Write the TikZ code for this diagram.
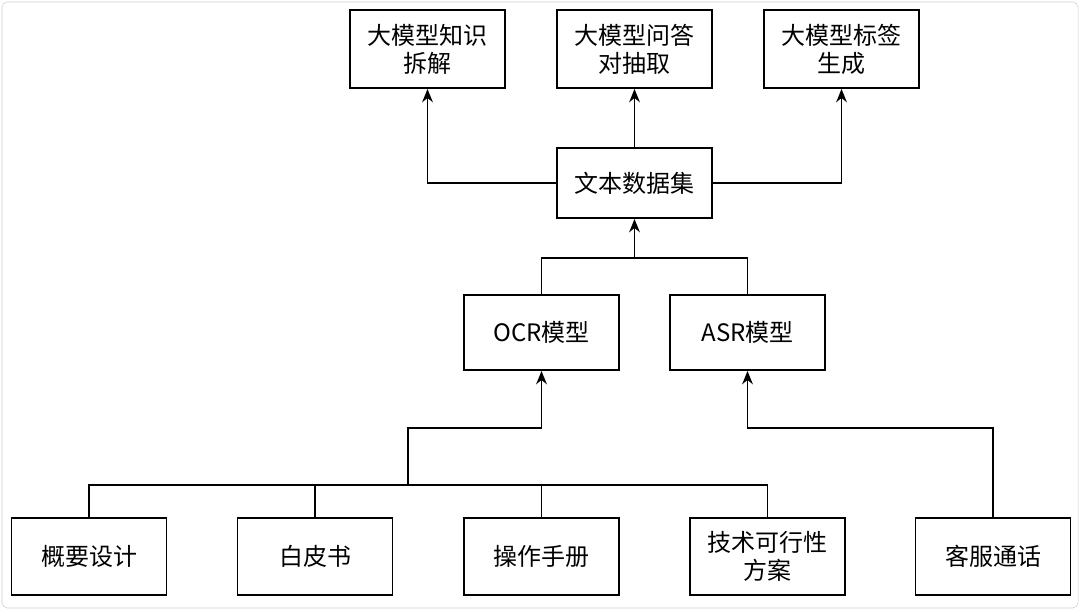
\documentclass[tikz,border=0pt]{standalone}
\usepackage{fontspec}
\setmainfont{Noto Sans CJK SC}
\usetikzlibrary{arrows.meta}
\begin{document}
\begin{tikzpicture}[x=0.75pt,y=-0.75pt,
  box/.style={draw,line width=1.4pt,minimum width=155*0.75pt,align=center,font=\fontsize{18}{21}\selectfont,inner sep=1pt},
  ln/.style={line width=1.4pt},
  ar/.style={line width=1.4pt,-{Stealth[length=10pt,width=8pt]}}]
\useasboundingbox (0,0) rectangle (1080,610);
\draw[gray!40,rounded corners=4pt] (2,2) rectangle (1078,608);
\node[box,minimum height=78*0.75pt] (t1) at (427.5,49) {大模型知识\\拆解};
\node[box,minimum height=78*0.75pt] (t2) at (634.5,49) {大模型问答\\对抽取};
\node[box,minimum height=78*0.75pt] (t3) at (841.5,49) {大模型标签\\生成};
\node[box,minimum height=70*0.75pt] (d) at (634.5,183) {文本数据集};
\node[box,minimum height=75*0.75pt] (ocr) at (541.5,332.5) {OCR模型};
\node[box,minimum height=75*0.75pt] (asr) at (747.5,332.5) {ASR模型};
\node[box,minimum height=77*0.75pt] (b1) at (89,556.5) {概要设计};
\node[box,minimum height=77*0.75pt] (b2) at (315,556.5) {白皮书};
\node[box,minimum height=77*0.75pt] (b3) at (541.5,556.5) {操作手册};
\node[box,minimum height=77*0.75pt] (b4) at (767.5,556.5) {技术可行性\\方案};
\node[box,minimum height=77*0.75pt] (b5) at (993,556.5) {客服通话};
\draw[ar] (d.west) -| (t1.south);
\draw[ar] (d.north) -- (t2.south);
\draw[ar] (d.east) -| (t3.south);
\coordinate (m) at (634.5,258);
\draw[ln] (ocr.north) |- (m) -| (asr.north);
\draw[ar] (m) -- (d.south);
\coordinate (j) at (408,485);
\draw[ln] (b1.north) |- (b4.north |- j) -- (b4.north);
\draw[ln] (b2.north) -- (b2.north |- j);
\draw[ln] (b3.north) -- (b3.north |- j);
\draw[ar] (j) |- (541.5,428) -- (ocr.south);
\draw[ar] (b5.north) |- (747.5,428) -- (asr.south);
\end{tikzpicture}
\end{document}
